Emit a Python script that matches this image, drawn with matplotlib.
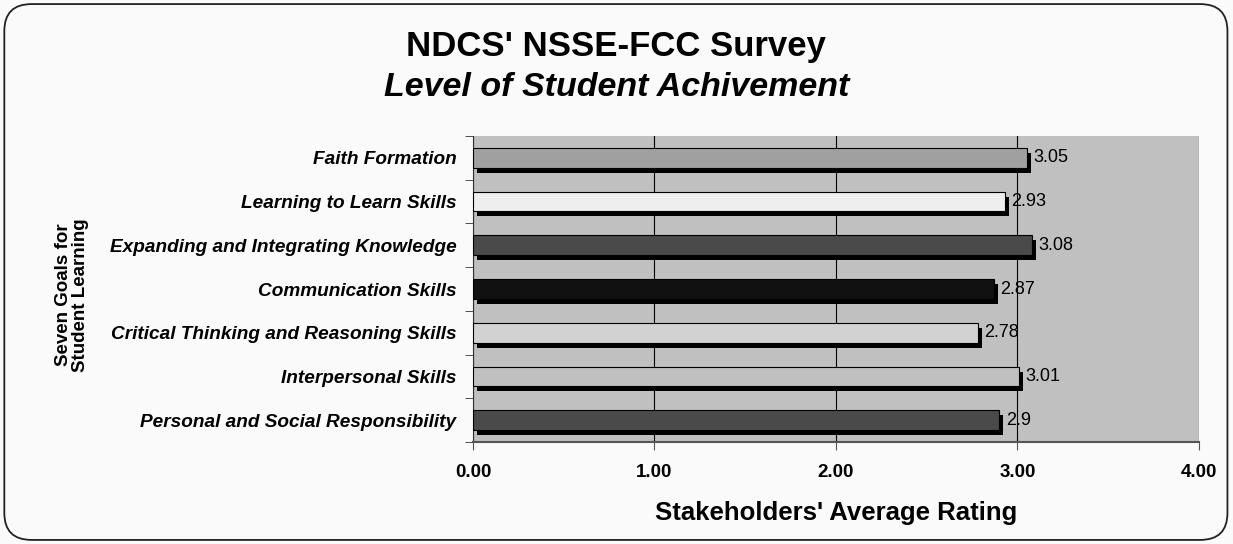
import matplotlib
matplotlib.use("Agg")
import matplotlib.pyplot as plt
from matplotlib.patches import FancyBboxPatch
from matplotlib.transforms import ScaledTranslation

plt.rcParams['font.family'] = ['Liberation Sans', 'DejaVu Sans']

# data (top to bottom)
goals = ["Faith Formation", "Learning to Learn Skills",
         "Expanding and Integrating Knowledge", "Communication Skills",
         "Critical Thinking and Reasoning Skills", "Interpersonal Skills",
         "Personal and Social Responsibility"]
ratings = [3.05, 2.93, 3.08, 2.87, 2.78, 3.01, 2.9]
labels = ["3.05", "2.93", "3.08", "2.87", "2.78", "3.01", "2.9"]
colors = ["#a0a0a0", "#eeeeee", "#4a4a4a", "#111111", "#d2d2d2", "#c0c0c0", "#4a4a4a"]

fig = plt.figure(figsize=(12.33, 5.44), dpi=100, facecolor="#fafafa")
ax = fig.add_axes([0.3836, 0.1875, 0.5888, 0.5625])
ax.set_facecolor("#c0c0c0")

# rounded frame around the chart
frame = FancyBboxPatch((0.0035, 0.0075), 0.992, 0.985, boxstyle="round,pad=0,rounding_size=0.022",
                       transform=fig.transFigure, facecolor="none", edgecolor="#222222",
                       linewidth=1.3, mutation_aspect=1233 / 544)
fig.patches.append(frame)

ypos = list(range(len(goals)))[::-1]
h = 0.45
shadow = ax.transData + ScaledTranslation(4 / 100, -5 / 100, fig.dpi_scale_trans)
ax.barh(ypos, ratings, height=h, color="black", transform=shadow, zorder=2)
ax.barh(ypos, ratings, height=h, color=colors, edgecolor="black", linewidth=0.8, zorder=3)

for y, v, t in zip(ypos, ratings, labels):
    ax.text(v + 0.035, y, t, va="center", ha="left", fontsize=13, zorder=4)

ax.set_xlim(0, 4)
ax.set_ylim(-0.5, len(goals) - 0.5)
ax.set_xticks([0, 1, 2, 3, 4])
ax.set_xticklabels(["0.00", "1.00", "2.00", "3.00", "4.00"], fontsize=13.5, fontweight="bold")
ax.set_yticks(ypos)
ax.set_yticklabels(goals, fontsize=13.7, fontweight="bold", fontstyle="italic")
ax.set_yticks([y + 0.5 for y in ypos] + [-0.5], minor=True)
ax.tick_params(axis="y", which="major", length=0, pad=12)
ax.tick_params(axis="y", which="minor", length=6, direction="out", color="#333333")
ax.tick_params(axis="x", length=6, direction="out", pad=10, color="#555555")
ax.grid(axis="x", color="black", linewidth=0.8, zorder=1)
ax.set_axisbelow(True)
for s in ["top", "right"]:
    ax.spines[s].set_visible(False)
ax.spines["left"].set_color("#333333")
ax.spines["bottom"].set_color("#555555")
ax.spines["bottom"].set_linewidth(1.5)

ax.set_xlabel("Stakeholders' Average Rating", fontsize=18.5, fontweight="bold", labelpad=14)
fig.text(0.058, 0.458, "Seven Goals for\nStudent Learning", rotation=90, ha="center", va="center",
         fontsize=13.5, fontweight="bold", linespacing=1.0)

fig.text(0.5, 0.915, "NDCS' NSSE-FCC Survey", ha="center", va="center", fontsize=25, fontweight="bold")
fig.text(0.5, 0.84, "Level of Student Achivement", ha="center", va="center", fontsize=24.5,
         fontweight="bold", fontstyle="italic")

fig.savefig("out.png", dpi=100, facecolor=fig.get_facecolor())
